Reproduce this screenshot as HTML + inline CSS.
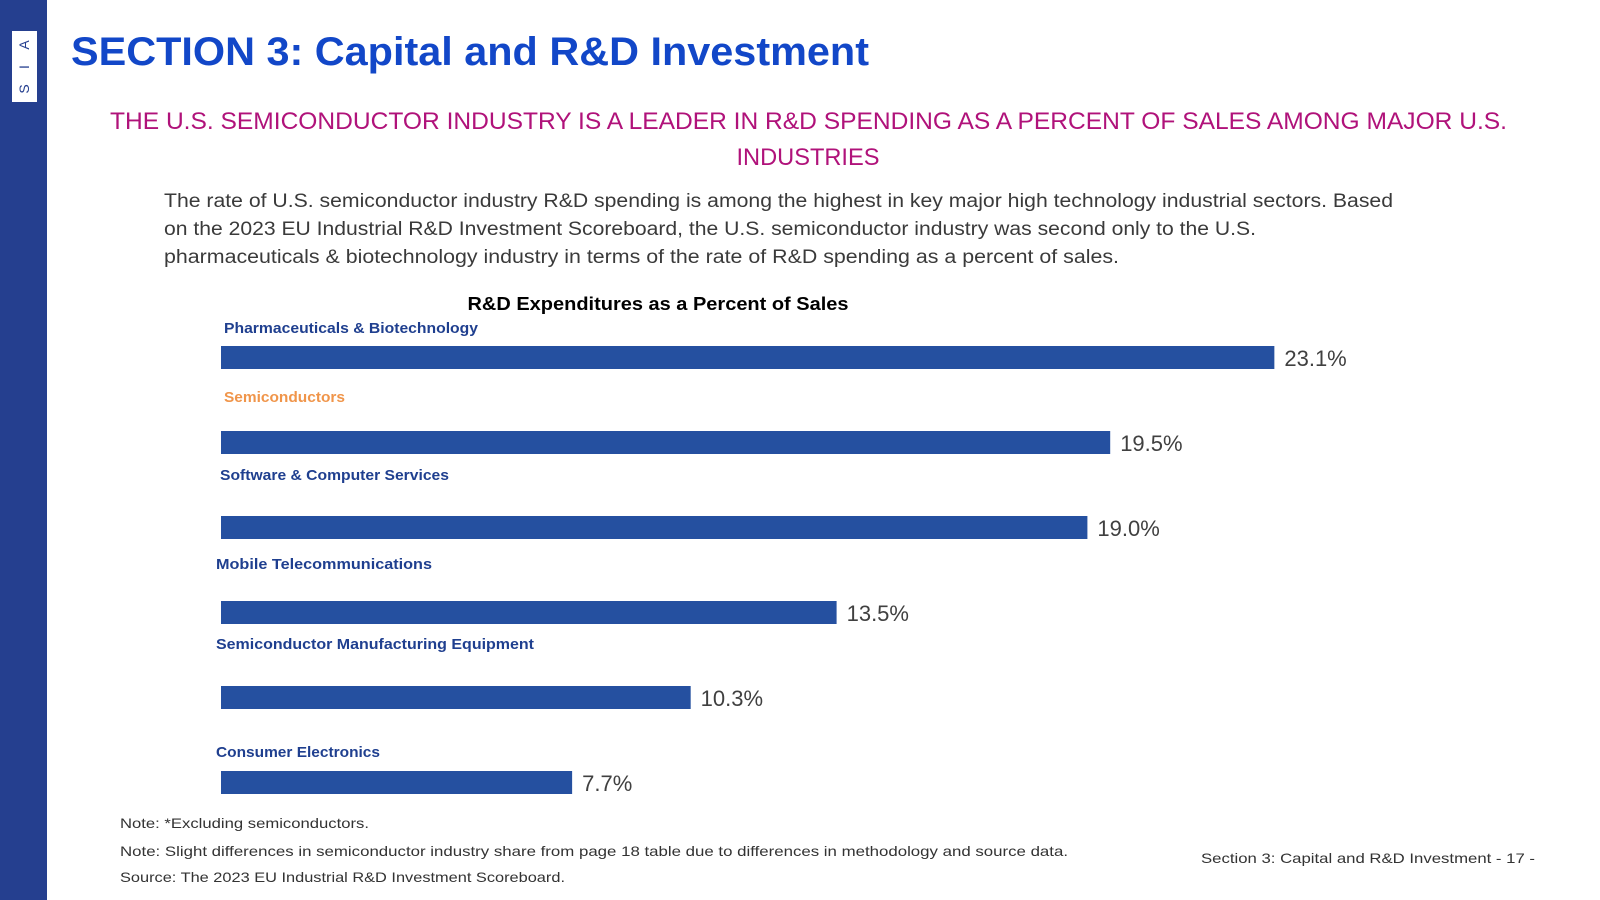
<!DOCTYPE html>
<html><head><meta charset="utf-8"><style>
html,body{margin:0;padding:0;background:#fff;width:1600px;height:900px;overflow:hidden}
svg{display:block}
</style></head><body>
<svg id="s" width="1600" height="900" viewBox="0 0 1600 900" xmlns="http://www.w3.org/2000/svg" font-family="Liberation Sans, sans-serif">
<rect x="0" y="0" width="47" height="900" fill="#253f8f"/>
<g>
<rect x="12" y="31" width="25" height="71" fill="#fff"/>
<text x="25" y="49" font-size="14" fill="#253f8f" text-anchor="middle" transform="rotate(-90 25 45)">A</text>
<text x="25" y="71" font-size="14" fill="#253f8f" text-anchor="middle" transform="rotate(-90 25 67)">I</text>
<text x="25" y="93" font-size="14" fill="#253f8f" text-anchor="middle" transform="rotate(-90 25 89)">S</text>
</g>
<text x="71" y="65" font-size="40" font-weight="bold" fill="#1247c8" textLength="798" lengthAdjust="spacingAndGlyphs">SECTION 3: Capital and R&amp;D Investment</text>
<text x="110" y="129" font-size="24" fill="#b0127a" textLength="1397" lengthAdjust="spacingAndGlyphs">THE U.S. SEMICONDUCTOR INDUSTRY IS A LEADER IN R&amp;D SPENDING AS A PERCENT OF SALES AMONG MAJOR U.S.</text>
<text x="808" y="165" font-size="24" fill="#b0127a" text-anchor="middle" textLength="143" lengthAdjust="spacingAndGlyphs">INDUSTRIES</text>
<g font-size="19" fill="#3a3a3a">
<text x="164" y="207" textLength="1229" lengthAdjust="spacingAndGlyphs">The rate of U.S. semiconductor industry R&amp;D spending is among the highest in key major high technology industrial sectors. Based</text>
<text x="164" y="235" textLength="1092" lengthAdjust="spacingAndGlyphs">on the 2023 EU Industrial R&amp;D Investment Scoreboard, the U.S. semiconductor industry was second only to the U.S.</text>
<text x="164" y="263" textLength="955" lengthAdjust="spacingAndGlyphs">pharmaceuticals &amp; biotechnology industry in terms of the rate of R&amp;D spending as a percent of sales.</text>
</g>
<text x="658" y="310" font-size="18" font-weight="bold" fill="#000" text-anchor="middle" textLength="381" lengthAdjust="spacingAndGlyphs">R&amp;D Expenditures as a Percent of Sales</text>
<g id="chart"></g>
<g font-size="14" fill="#333">
<text x="120" y="828" textLength="249" lengthAdjust="spacingAndGlyphs">Note: *Excluding semiconductors.</text>
<text x="120" y="856" textLength="948" lengthAdjust="spacingAndGlyphs">Note: Slight differences in semiconductor industry share from page 18 table due to differences in methodology and source data.</text>
<text x="120" y="882" textLength="445" lengthAdjust="spacingAndGlyphs">Source: The 2023 EU Industrial R&amp;D Investment Scoreboard.</text>
</g>
<text x="1201" y="863" font-size="14" fill="#333" textLength="334" lengthAdjust="spacingAndGlyphs">Section 3: Capital and R&amp;D Investment  - 17 -</text>
</svg>
<script>
const categories = ["Pharmaceuticals & Biotechnology","Semiconductors","Software & Computer Services","Mobile Telecommunications","Semiconductor Manufacturing Equipment","Consumer Electronics"];
const values = [23.1, 19.5, 19.0, 13.5, 10.3, 7.7];
const valueLabels = ["23.1%","19.5%","19.0%","13.5%","10.3%","7.7%"];
const labelColors = ["#1f3f8f","#f0954a","#1f3f8f","#1f3f8f","#1f3f8f","#1f3f8f"];

const NS = "http://www.w3.org/2000/svg";
const g = document.getElementById('chart');
const x0 = 221, pxPer = 45.6;
const xScale = v => x0 + v * pxPer;
const barTops = [346, 431, 516, 601, 686, 771];
const labelYs = [333, 402, 480, 569, 649, 757];
const labelXs = [224, 224, 220, 216, 216, 216];
const labelW = [254, 121, 229, 216, 318, 164];
categories.forEach((c, i) => {
  const r = document.createElementNS(NS, 'rect');
  
  
  r.setAttribute('x', x0);
  r.setAttribute('y', barTops[i]);
  r.setAttribute('width', xScale(values[i]) - x0);
  r.setAttribute('height', 23);
  r.setAttribute('fill', '#2550a0');
  g.appendChild(r);
  const l = document.createElementNS(NS, 'text');
  
  
  l.setAttribute('x', labelXs[i]);
  l.setAttribute('y', labelYs[i]);
  l.setAttribute('font-size', '15');
  l.setAttribute('font-weight', 'bold');
  l.setAttribute('fill', labelColors[i]);
  l.setAttribute('textLength', labelW[i]);
  l.setAttribute('lengthAdjust', 'spacingAndGlyphs');
  l.textContent = c;
  g.appendChild(l);
  const v = document.createElementNS(NS, 'text');
  
  
  v.setAttribute('x', xScale(values[i]) + 10);
  v.setAttribute('y', barTops[i] + 20);
  v.setAttribute('font-size', '22');
  v.setAttribute('fill', '#404040');
  v.textContent = valueLabels[i];
  g.appendChild(v);
});
</script>
</body></html>
